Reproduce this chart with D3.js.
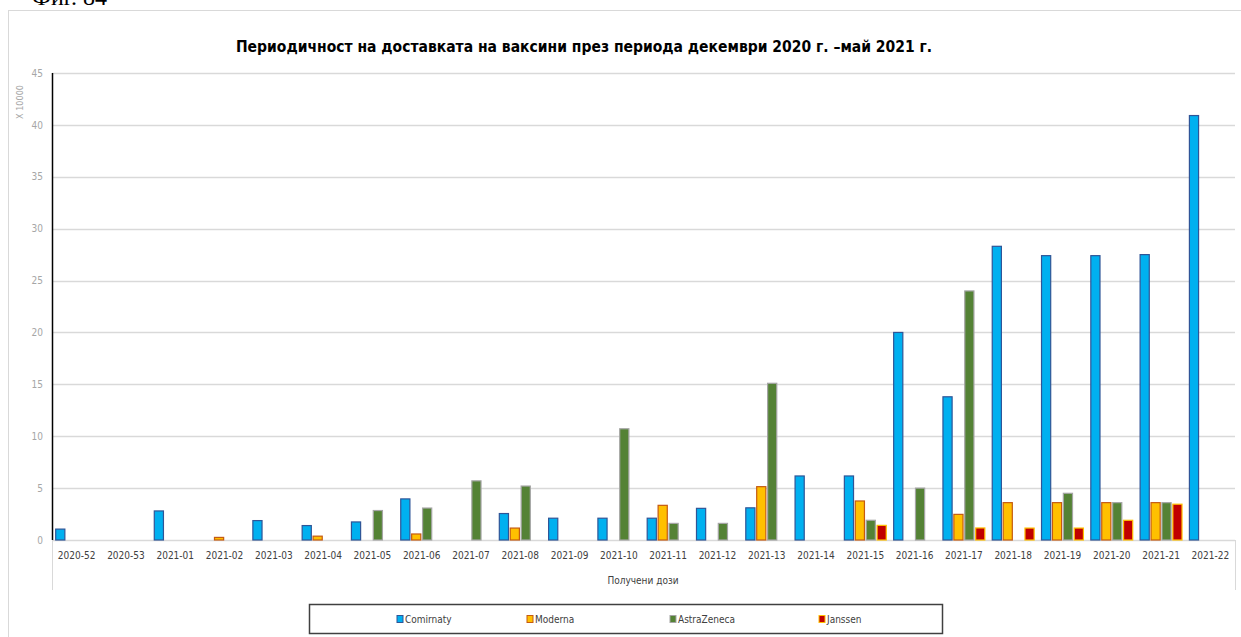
<!DOCTYPE html>
<html>
<head>
<meta charset="utf-8">
<script src="https://cdn.jsdelivr.net/npm/d3@7"></script>
<style>
  html, body { margin: 0; padding: 0; background: #fff; }
  svg { display: block; }
</style>
</head>
<body>
<svg id="chart" width="1241" height="637"></svg>
<script>
// Weekly vaccine deliveries, in units of 10 000 doses
const weeks = ["2020-52","2020-53","2021-01","2021-02","2021-03","2021-04","2021-05","2021-06",
  "2021-07","2021-08","2021-09","2021-10","2021-11","2021-12","2021-13","2021-14",
  "2021-15","2021-16","2021-17","2021-18","2021-19","2021-20","2021-21","2021-22"];
const seriesNames = ["Comirnaty", "Moderna", "AstraZeneca", "Janssen"];
const comirnaty   = [1.05, 0, 2.8, 0, 1.87, 1.39, 1.74, 3.96, 0, 2.55, 2.1, 2.1, 2.1, 3.05, 3.1, 6.17, 6.17, 20.0, 13.8, 28.3, 27.4, 27.4, 27.5, 40.9];
const moderna     = [0, 0, 0, 0.25, 0, 0.37, 0, 0.58, 0, 1.15, 0, 0, 3.34, 0, 5.14, 0, 3.76, 0, 2.47, 3.6, 3.6, 3.6, 3.6, 0];
const astrazeneca = [0, 0, 0, 0, 0, 0, 2.84, 3.08, 5.7, 5.2, 0, 10.72, 1.6, 1.6, 15.1, 0, 1.9, 5.0, 24.0, 0, 4.5, 3.6, 3.6, 0];
const janssen     = [0, 0, 0, 0, 0, 0, 0, 0, 0, 0, 0, 0, 0, 0, 0, 0, 1.41, 0, 1.16, 1.15, 1.15, 1.9, 3.45, 0];
const yTicks = [0, 5, 10, 15, 20, 25, 30, 35, 40, 45];

const seriesData = [comirnaty, moderna, astrazeneca, janssen];
const fills   = ["#00b0f0", "#ffc000", "#548235", "#c00000"];
const strokes = ["#2f5597", "#c55a11", "#a5a5a5", "#ffc000"];

const svg = d3.select("#chart");
const font = "'DejaVu Sans Condensed', 'Liberation Sans', sans-serif";

// figure caption cut at the top edge
svg.append("text").attr("x", 32).attr("y", 5)
  .attr("font-family", "'Liberation Serif', serif").attr("font-size", 24)
  .attr("fill", "#000").text("Фиг. 84");

// chart area frame
svg.append("rect").attr("x", 8.5).attr("y", 10.5).attr("width", 1260).attr("height", 660)
  .attr("fill", "none").attr("stroke", "#d9d9d9").attr("stroke-width", 1);

// title
svg.append("text").attr("x", 584).attr("y", 52).attr("text-anchor", "middle")
  .attr("font-family", font).attr("font-weight", "bold").attr("font-size", 15.5)
  .attr("fill", "#000")
  .text("Периодичност  на доставката  на ваксини  през периода  декември  2020 г. –май 2021 г.");

const plotLeft = 52, plotRight = 1235, plotTop = 73, plotBottom = 540;

const y = d3.scaleLinear().domain([0, 45]).range([plotBottom, plotTop]);
const x0 = d3.scaleBand().domain(weeks).range([plotLeft, plotRight]).paddingInner(0.15).paddingOuter(0.075);
const x1 = d3.scaleBand().domain(seriesNames).range([0, x0.bandwidth()]).paddingInner(0.16).paddingOuter(0);

// horizontal gridlines
svg.append("g").selectAll("line").data(yTicks.filter(d => d > 0)).join("line")
  .attr("x1", plotLeft).attr("x2", plotRight)
  .attr("y1", d => Math.round(y(d)) + 0.5).attr("y2", d => Math.round(y(d)) + 0.5)
  .attr("stroke", "#d9d9d9").attr("stroke-width", 1.5);

// y axis labels
const yAxis = d3.axisLeft(y).tickValues(yTicks).tickSize(0).tickPadding(9);
const gy = svg.append("g").attr("transform", `translate(${plotLeft},0)`).call(yAxis);
gy.select(".domain").remove();
gy.selectAll("text").attr("font-family", font).attr("font-size", 10).attr("fill", "#a6a6a6");

// unit label
svg.append("text").attr("transform", "translate(23,102) rotate(-90)")
  .attr("text-anchor", "middle").attr("font-family", font).attr("font-size", 9)
  .attr("fill", "#a6a6a6").text("X 10000");

// category axis frame
svg.append("line").attr("x1", plotLeft).attr("x2", plotRight).attr("y1", plotBottom + 0.5).attr("y2", plotBottom + 0.5)
  .attr("stroke", "#d9d9d9").attr("stroke-width", 1.5);
svg.append("line").attr("x1", plotLeft + 0.5).attr("x2", plotLeft + 0.5).attr("y1", plotBottom).attr("y2", 590)
  .attr("stroke", "#d9d9d9").attr("stroke-width", 1);
svg.append("line").attr("x1", plotRight + 0.5).attr("x2", plotRight + 0.5).attr("y1", plotBottom).attr("y2", 590)
  .attr("stroke", "#d9d9d9").attr("stroke-width", 1);

// bars
const groups = svg.append("g").selectAll("g").data(weeks).join("g")
  .attr("transform", d => `translate(${x0(d)},0)`);
groups.selectAll("rect")
  .data((w, i) => seriesNames.map((s, k) => ({ s, k, v: seriesData[k][i] })).filter(d => d.v > 0))
  .join("rect")
  .attr("x", d => x1(d.s))
  .attr("y", d => y(d.v))
  .attr("width", x1.bandwidth())
  .attr("height", d => y(0) - y(d.v))
  .attr("fill", d => fills[d.k])
  .attr("stroke", d => strokes[d.k])
  .attr("stroke-width", 1.2);

// y axis line
svg.append("line").attr("x1", plotLeft + 0.5).attr("x2", plotLeft + 0.5).attr("y1", plotTop).attr("y2", plotBottom)
  .attr("stroke", "#000").attr("stroke-width", 1.5);

// category labels
const xAxis = d3.axisBottom(x0).tickSize(0).tickPadding(12);
const gx = svg.append("g").attr("transform", `translate(0,${plotBottom})`).call(xAxis);
gx.select(".domain").remove();
gx.selectAll("text").attr("font-family", font).attr("font-size", 10).attr("fill", "#404040");

// axis title
svg.append("text").attr("x", 643).attr("y", 584).attr("text-anchor", "middle")
  .attr("font-family", font).attr("font-size", 10).attr("fill", "#404040").text("Получени дози");

// legend
svg.append("rect").attr("x", 309.5).attr("y", 604.5).attr("width", 633).attr("height", 29)
  .attr("fill", "#fff").attr("stroke", "#404040").attr("stroke-width", 1.5);
const legendX = [397, 527, 670, 819];
const lg = svg.append("g").selectAll("g").data(seriesNames).join("g")
  .attr("transform", (d, i) => `translate(${legendX[i]},619)`);
lg.append("rect").attr("x", 0).attr("y", -3.5).attr("width", 6).attr("height", 7)
  .attr("fill", (d, i) => fills[i]).attr("stroke", (d, i) => strokes[i]).attr("stroke-width", 1);
lg.append("text").attr("x", 8).attr("y", 3.5).attr("font-family", font).attr("font-size", 10)
  .attr("fill", "#404040").text(d => d);
</script>
</body>
</html>
